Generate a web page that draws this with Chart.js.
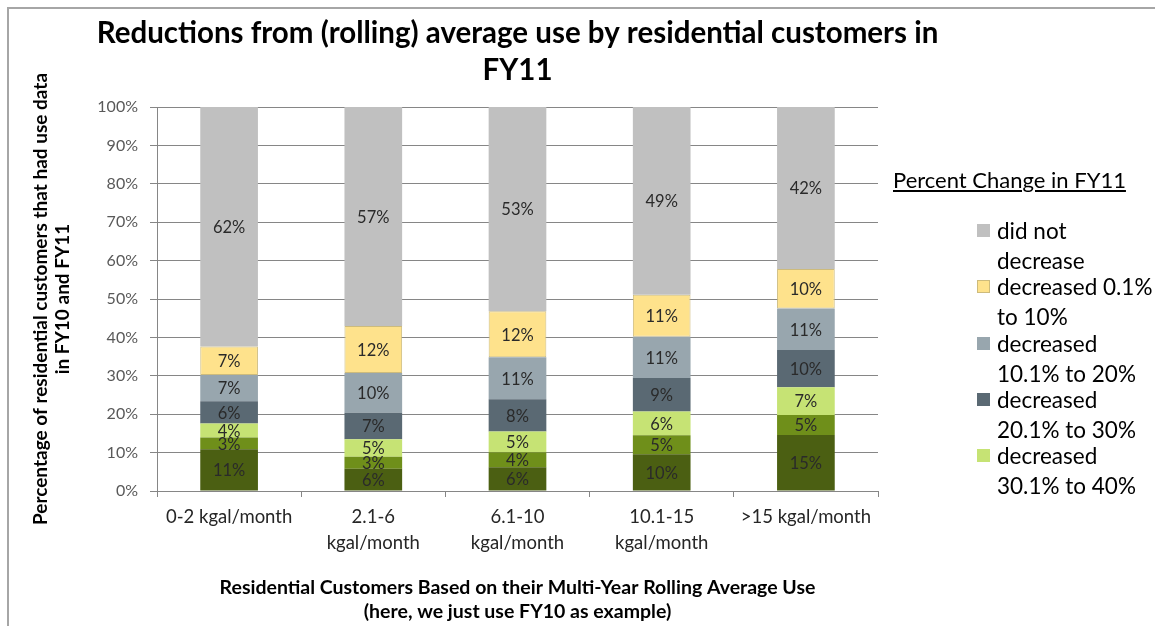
<!DOCTYPE html>
<html>
<head>
<meta charset="utf-8">
<script src="https://cdn.jsdelivr.net/npm/chart.js@4/dist/chart.umd.min.js"></script>
<style>
  html, body { margin: 0; padding: 0; background: #fff; }
  #wrap { position: relative; width: 1155px; height: 626px; overflow: hidden; font-family: Lato, sans-serif; }
  #frame { position: absolute; left: 7px; top: 7px; width: 1200px; height: 700px; border-top: 2px solid #a6a6a6; border-left: 2px solid #a6a6a6; }
  canvas { position: absolute; left: 0; top: 0; }
  #legend { position: absolute; left: 893px; top: 166px; color: #000; }
  #legend .ttl { font-size: 22px; text-decoration: underline; white-space: nowrap; }
  #legend .item { position: absolute; left: 84px; width: 200px; }
  #legend .sw { position: absolute; left: 0; top: 8px; width: 13px; height: 13px; }
  #legend .txt { position: absolute; left: 20px; font-size: 22.5px; line-height: 30px; white-space: nowrap; }
</style>
</head>
<body>
<div id="wrap">
  <div id="frame"></div>
  <canvas id="chart" width="1155" height="626"></canvas>
  <div id="legend"><div class="ttl">Percent Change in FY11</div></div>
</div>
<script>
// categories (x axis)
const categories = [
  ["0-2 kgal/month"],
  ["2.1-6", "kgal/month"],
  ["6.1-10", "kgal/month"],
  ["10.1-15", "kgal/month"],
  [">15 kgal/month"]
];

// series, bottom of stack first (percent of customers)
const dec40plus = [10.9, 5.8, 6.2, 9.6, 14.6];
const dec30to40b = [3.0, 3.1, 3.9, 4.9, 5.2];
const dec30to40 = [3.7, 4.6, 5.4, 6.2, 7.2];
const dec20to30 = [5.8, 6.9, 8.4, 8.7, 9.7];
const dec10to20 = [6.8, 10.3, 10.9, 10.8, 10.8];
const dec0to10 = [7.4, 12.3, 12.0, 10.9, 10.3];
const noDecrease = [62.4, 57.0, 53.2, 48.9, 42.2];

const seriesNames = [
  "decreased more than 40.1%",
  "decreased 40.1% to 50%",
  "decreased 30.1% to 40%",
  "decreased 20.1% to 30%",
  "decreased 10.1% to 20%",
  "decreased 0.1% to 10%",
  "did not decrease"
];
const seriesData = [dec40plus, dec30to40b, dec30to40, dec20to30, dec10to20, dec0to10, noDecrease];
const seriesColors = ["#4b5f12", "#6f8f1a", "#c6e374", "#5a6973", "#98a6ae", "#fee28c", "#c0c0c0"];
const seriesBorders = ["#4b5f12", "#6f8f1a", "#c6e374", "#5a6973", "#98a6ae", "#cdbb7c", "#c8c8c8"];

// legend text as it wraps in the original
const legendLines = [
  ["did not", "decrease"],
  ["decreased 0.1%", "to 10%"],
  ["decreased", "10.1% to 20%"],
  ["decreased", "20.1% to 30%"],
  ["decreased", "30.1% to 40%"]
];

const yTicks = [0, 10, 20, 30, 40, 50, 60, 70, 80, 90, 100];

const titleLines = ["Reductions from (rolling) average use by residential customers in", "FY11"];

// title centred over the plot area
const titlePlugin = {
  id: "topTitle",
  afterDraw(chart) {
    const ctx = chart.ctx;
    const area = chart.chartArea;
    const cx = (area.left + area.right) / 2;
    ctx.save();
    ctx.font = "bold 29.5px Lato";
    ctx.fillStyle = "#000";
    ctx.textAlign = "center";
    ctx.textBaseline = "middle";
    ctx.fillText(titleLines[0], cx, 33);
    ctx.fillText(titleLines[1], cx, 70);
    ctx.restore();
  }
};

// percent labels inside each segment
const valueLabels = {
  id: "valueLabels",
  afterDatasetsDraw(chart) {
    const ctx = chart.ctx;
    ctx.save();
    ctx.font = "16.5px Lato";
    ctx.fillStyle = "#2a2a2a";
    ctx.textAlign = "center";
    ctx.textBaseline = "middle";
    chart.data.datasets.forEach((ds, i) => {
      const meta = chart.getDatasetMeta(i);
      meta.data.forEach((bar, j) => {
        const v = ds.data[j];
        const p = bar.getProps(["x", "y", "base"], true);
        ctx.fillText(Math.round(v) + "%", p.x, (p.y + p.base) / 2 + 1);
      });
    });
    ctx.restore();
  }
};

const ctx = document.getElementById("chart").getContext("2d");
const chart = new Chart(ctx, {
  type: "bar",
  data: {
    labels: categories,
    datasets: seriesData.map((d, i) => ({
      label: seriesNames[i],
      data: d,
      backgroundColor: seriesColors[i],
      borderColor: seriesBorders[i],
      borderWidth: i === 5 ? 1 : 0,
      borderSkipped: false,
      barPercentage: 0.4,
      categoryPercentage: 1.0
    }))
  },
  options: {
    responsive: false,
    animation: false,
    layout: { padding: { top: 107, left: 20, right: 277, bottom: 0 } },
    plugins: {
      legend: { display: false },
      title: { display: false },
      tooltip: { enabled: false }
    },
    scales: {
      x: {
        stacked: true,
        grid: { display: true, drawOnChartArea: false, drawTicks: true, tickLength: 6, offset: true, color: "#868686" },
        border: { color: "#868686" },
        ticks: { color: "#262626", font: { family: "Lato", size: 18.5, lineHeight: 1.4 }, padding: 7, maxRotation: 0, autoSkip: false },
        title: {
          display: true,
          text: ["Residential Customers Based on their Multi-Year Rolling Average Use", "(here, we just use FY10 as example)"],
          color: "#000",
          font: { family: "Lato", size: 19.5, weight: "bold", lineHeight: 1.25 },
          padding: { top: 0, bottom: 2 }
        },
        afterFit(scale) { scale.height = 135; }
      },
      y: {
        stacked: true,
        min: 0,
        max: 100,
        afterBuildTicks(scale) { scale.ticks = yTicks.map(v => ({ value: v })); },
        grid: { color: "#868686", tickLength: 7 },
        border: { color: "#868686" },
        ticks: { color: "#595959", font: { family: "Lato", size: 16 }, padding: 12, callback: v => v + "%" },
        title: {
          display: true,
          text: ["Percentage of residential customers that had use data", "in FY10 and FY11"],
          color: "#000",
          font: { family: "Lato", size: 19, weight: "bold", lineHeight: 1.2 },
          padding: { top: 9, bottom: 0 }
        },
        afterFit(scale) { scale.width = 137; }
      }
    }
  },
  plugins: [titlePlugin, valueLabels]
});

// HTML legend, top of the stack first, truncated like the original
const legendEl = document.getElementById("legend");
legendLines.forEach((lines, k) => {
  const idx = seriesNames.length - 1 - k;
  const item = document.createElement("div");
  item.className = "item";
  item.style.top = (50 + k * 56.3) + "px";
  const sw = document.createElement("div");
  sw.className = "sw";
  sw.style.background = seriesColors[idx];
  if (idx === 5) sw.style.boxShadow = "inset 0 0 0 1px " + seriesBorders[idx];
  const txt = document.createElement("div");
  txt.className = "txt";
  txt.innerHTML = lines.join("<br>");
  item.appendChild(sw);
  item.appendChild(txt);
  legendEl.appendChild(item);
});
</script>
</body>
</html>
